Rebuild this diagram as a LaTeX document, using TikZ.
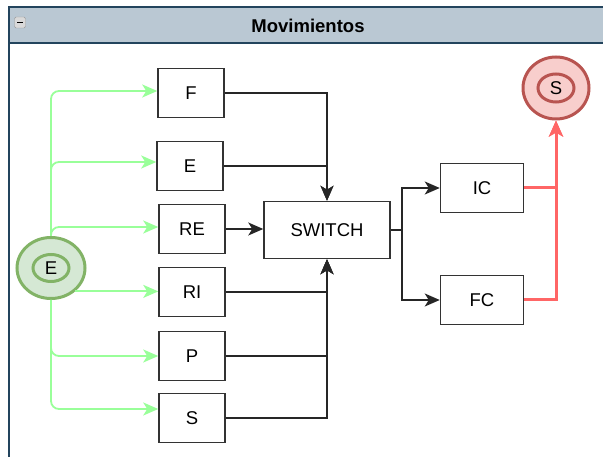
\documentclass[tikz,border=0pt]{standalone}
\usepackage{fontspec}
\setmainfont{Liberation Sans}
\usetikzlibrary{arrows.meta,shapes.geometric}
\definecolor{cabecera}{HTML}{BAC8D3}
\definecolor{borde}{HTML}{23445D}
\definecolor{verdefondo}{HTML}{D5E8D4}
\definecolor{verdeborde}{HTML}{82B366}
\definecolor{verdeclaro}{HTML}{99FF99}
\definecolor{rojofondo}{HTML}{F8CECC}
\definecolor{rojoborde}{HTML}{B85450}
\definecolor{rojoclaro}{HTML}{FF6666}
\tikzset{
  caja/.style={draw=black!80,line width=1.5pt,minimum width=66pt,minimum height=49pt,inner sep=0pt},
  inicio/.style={ellipse,draw=verdeborde,fill=verdefondo,line width=3pt,inner sep=0pt},
  fin/.style={ellipse,draw=rojoborde,fill=rojofondo,line width=3pt,inner sep=0pt},
  negro/.style={draw=black!85,line width=1.5pt,-{Stealth[length=15pt,width=13pt,inset=4pt]}},
  verde/.style={draw=verdeclaro,line width=1.8pt,rounded corners=8pt,-{Stealth[length=15pt,width=13pt,inset=4pt]}},
  rojo/.style={draw=rojoclaro,line width=3pt,-{Stealth[length=16pt,width=14pt,inset=4pt]}}
}
\begin{document}
\begin{tikzpicture}[x=1pt,y=-1pt,font=\fontsize{18.5}{20}\selectfont]
  \useasboundingbox (0,0) rectangle (603,457);
  \clip (0,0) rectangle (603,457);
  % contenedor
  \draw[fill=cabecera,draw=borde,line width=1.4pt] (9,7) rectangle (620,43);
  \draw[borde,line width=1.4pt] (9,43) -- (9,470);
  \draw[rounded corners=1.5pt,fill=gray!30,draw=gray!80] (14.5,17) rectangle (25.5,28);
  \draw[line width=1.8pt] (17,22.5) -- (23,22.5);
  \node[font=\bfseries\fontsize{18.5}{20}\selectfont] (titulo) at (308,26) {Movimientos};
  % estados
  \node[inicio,minimum width=68pt,minimum height=61pt] (ini) at (51,268) {};
  \node[inicio,minimum width=36pt,minimum height=27pt] (iniE) at (ini) {E};
  \node[fin,minimum width=66pt,minimum height=62pt] (fin) at (556,88) {};
  \node[fin,minimum width=36pt,minimum height=28pt] (finS) at (fin) {S};
  % cajas
  \node[caja] (F) at (191,93) {F};
  \node[caja] (E) at (190,166) {E};
  \node[caja] (RE) at (192,229) {RE};
  \node[caja] (RI) at (192,292) {RI};
  \node[caja] (P) at (192,356) {P};
  \node[caja] (S) at (192,418) {S};
  \node[caja,minimum width=126pt,minimum height=57pt] (SW) at (327,230) {SWITCH};
  \node[caja,minimum width=83pt] (IC) at (482,188) {IC};
  \node[caja,minimum width=83pt] (FC) at (482,300) {FC};
  % conexiones
  \draw[verde] (ini.north) |- ([yshift=2pt]F.west);
  \draw[verde] (ini.north) |- ([yshift=4pt]E.west);
  \draw[verde] (ini.north) |- ([yshift=2pt]RE.west);
  \draw[verde] (ini.-44) -- (ini.-44 -| RI.west);
  \draw[verde] (ini.south) |- (P.west);
  \draw[verde] (ini.south) |- ([yshift=9pt]S.west);
  \draw[negro] (F.east) -| (SW.north);
  \draw[negro] (E.east) -| (SW.north);
  \draw[negro] (RE.east) -- (RE.east -| SW.west);
  \draw[negro] (RI.east) -| (SW.south);
  \draw[negro] (P.east) -| (SW.south);
  \draw[negro] (S.east) -| (SW.south);
  \draw[negro] (SW.east) -- ++(11,0) |- (IC.west);
  \draw[negro] (SW.east) -- ++(11,0) |- (FC.west);
  \draw[rojo] (IC.east) -| (fin.south);
  \draw[rojo] (FC.east) -| (fin.south);
\end{tikzpicture}
\end{document}
